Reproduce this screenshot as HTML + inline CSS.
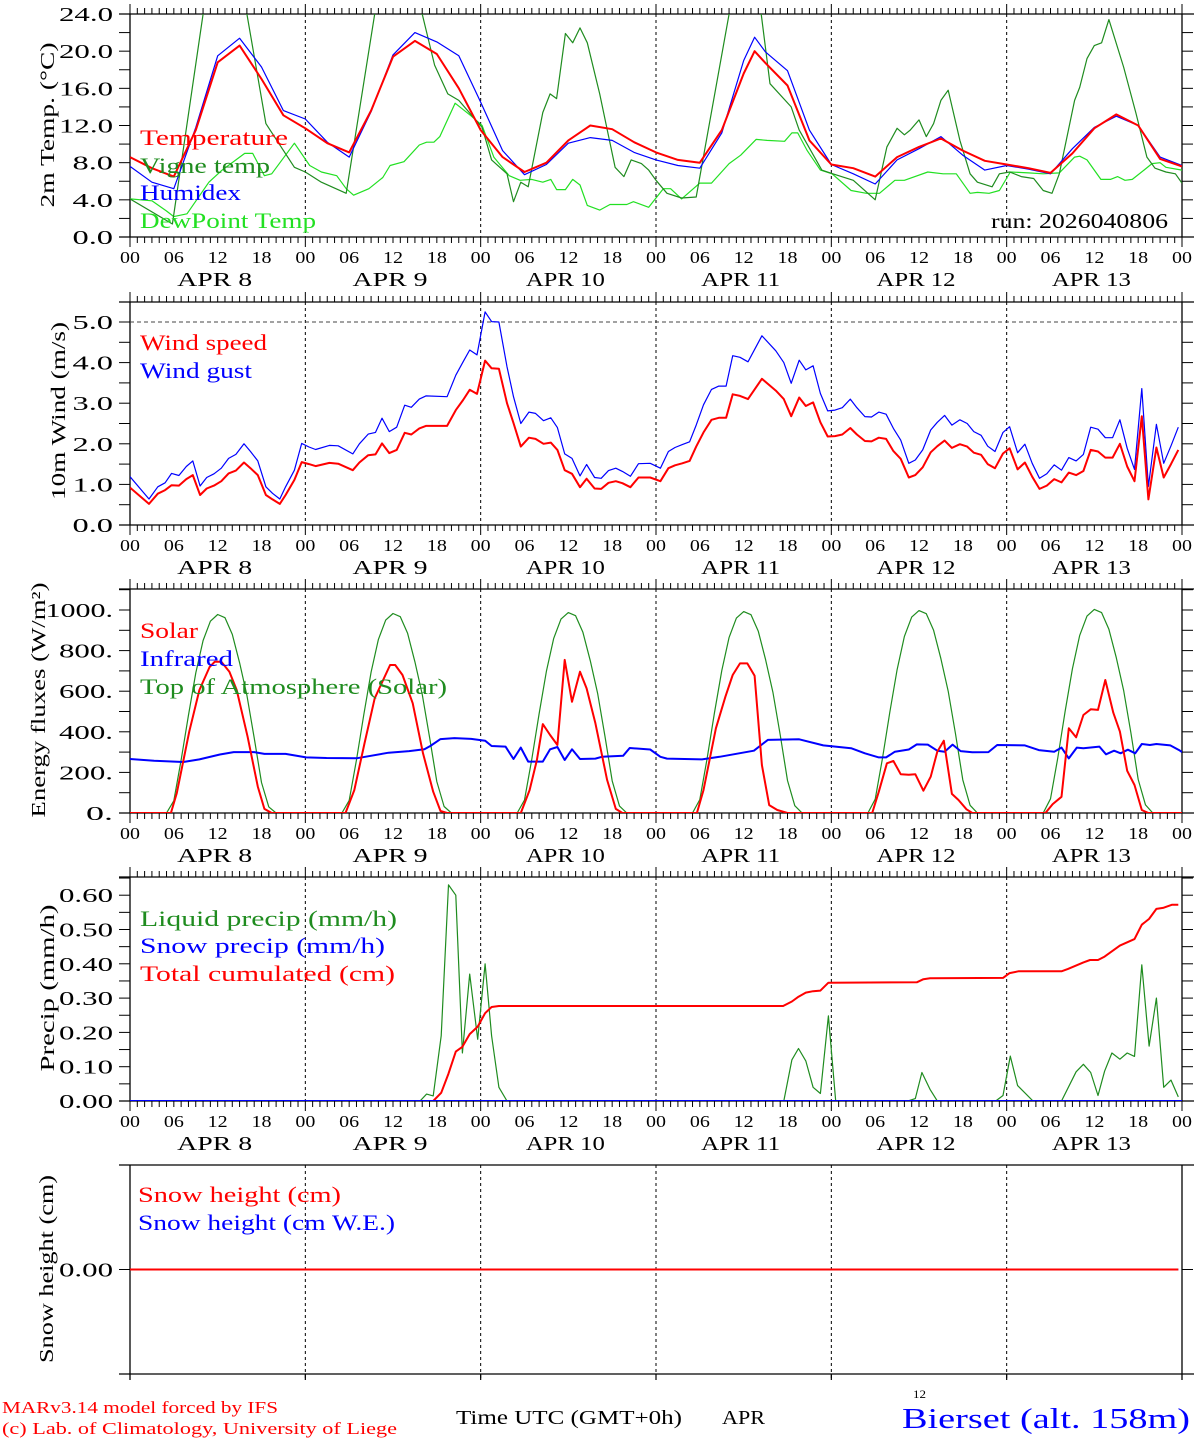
<!DOCTYPE html>
<html>
<head>
<meta charset="utf-8">
<style>
html,body{margin:0;padding:0;background:#fff;}
svg{display:block;}
text{font-family:"Liberation Serif",serif;}
</style>
</head>
<body>
<svg id="chart" xmlns="http://www.w3.org/2000/svg" width="1194" height="1440" viewBox="0 0 1194 1440"></svg>
<script>
// ---------------- DATA ----------------
const hourTickLabels = ["00","06","12","18"];
const dayLabels = ["APR  8","APR  9","APR 10","APR 11","APR 12","APR 13"];

const tempTicks = ["0.0","4.0","8.0","12.0","16.0","20.0","24.0"];
const windTicks = ["0.0","1.0","2.0","3.0","4.0","5.0"];
const fluxTicks = ["0.","200.","400.","600.","800.","1000."];
const precipTicks = ["0.00","0.10","0.20","0.30","0.40","0.50","0.60"];
const snowTicks = ["0.00"];

const tempHours = [0,3,6,9,12,15,18,21,24,27,30,33,36,39,42,45,48,51,54,57,60,63,66,69,72,75,78,81,84,85.5,87,90,93,96,99,102,105,108,111,114,117,120,123,126,129,132,135,138,141,144];
const temperature = [8.6,7.4,6.5,11.5,18.8,20.6,17,13.1, 11.7,10.1,9.1,13.6,19.4,21.1,19.7,16, 11.5,8.6,7.0,8.0,10.4,12,11.6,10.2, 9.1,8.3,8.0,11.5,17.6,20.0,18.7,16.3,10.4, 7.8,7.4,6.5,8.6,9.7,10.6,9.3,8.2, 7.8,7.4,6.9,9.0,11.7,13.2,12.0,8.4,7.6];
const humidex = [7.6,5.9,5.2,11.8,19.5,21.4,18.3,13.6, 12.7,10.2,8.6,13.5,19.6,22.0,21.0,19.5, 14.5,9.3,6.7,7.8,10.1,10.7,10.4,9.1, 8.3,7.7,7.4,11.2,19.0,21.5,19.9,17.9,11.5, 7.8,6.8,5.7,8.3,9.5,10.8,8.8,7.2, 7.7,7.3,6.8,9.5,11.8,13.0,12.0,8.6,7.7];

const vigneHours = [0,5.8,10,11,15,16,18.6,22.5,24,26.2,29.6,33.5,34.5,39,40,41.7,43.5,45,48.2,49.5,51.6,52.5,53.5,54.5,56.5,57.5,58.4,59.6,60.6,61.6,62.6,64.3,66.4,67.6,68.6,70,71,72,73.5,75.5,77.5,82,83,86,86.4,87.6,90.5,91.6,94.7,96.2,99,101,102,103.6,105,106,106.8,108,109,110,111,112,113.6,115,116,118,119,120.4,122,123.7,125,126.2,127.2,129.3,130,131,132,133,134,136,137.7,139.2,140.3,141.8,143.1,144];
const vigneTemp = [4.1,1.4,24,26,26,24,12.2,7.5,7.0,5.9,4.7,24,26,26,24,18.5,15.4,14.7,11.8,8.3,6.8,3.8,5.9,5.4,13.4,15.4,14.9,21.9,20.9,22.5,20.9,15.4,7.5,6.5,8.3,7.9,7.2,6.1,4.7,4.2,4.3,24,26,26,24,16.5,14,11.5,7.2,6.8,6.1,4.7,4.0,9.7,11.7,11,11.5,12.6,10.8,12.2,14.7,15.8,10.4,6.8,5.9,5.4,6.8,7.0,6.5,6.3,5.0,4.7,6.8,14.7,16.1,19.2,20.6,20.9,23.4,18.3,13.3,8.6,7.4,7.0,6.8,5.8];

const dewHours = [0,3,5,6,7.8,10.8,12.6,15.7,16.8,18.4,19.4,22.5,24.6,26.2,28.3,29.6,30.6,32.7,34.6,35.6,37.5,39.6,40.6,41.6,42.4,44.5,46.6,48.2,49.8,51.9,53.4,55,56.5,57.6,58.4,59.6,60.6,61.6,62.6,64.3,65.7,68,68.9,71,73,74,75.5,78,79.6,82,83.6,85.7,87.2,89.6,90.6,91.4,92.7,94.5,96.1,98.7,100.8,102.6,104.7,106,109.2,111.3,113.1,115,116,117.6,119,120.5,123,125,127.2,129.3,130,131,132.9,134.2,135.2,136.2,137.2,138.8,139.9,141,141.8,144];
const dewPoint = [4.1,3.9,2.8,2.2,2.5,5.9,7.2,9,9,6.6,6.8,10.1,7.7,7.0,6.6,5.2,4.5,5.2,6.4,7.7,8.1,9.9,10.2,10.2,10.8,14.4,13.1,12,8.6,6.6,6.1,6.2,5.9,6.2,5.1,5.1,6.2,5.6,3.4,2.9,3.5,3.5,3.8,3.2,5.2,5.2,4.1,5.8,5.8,7.9,8.8,10.5,10.4,10.3,11.2,11.2,9.3,7.2,6.8,5.0,4.7,4.7,6.1,6.1,7.0,6.8,6.8,4.7,4.8,4.7,5.0,7.0,6.9,6.8,6.9,8.6,8.7,8.3,6.2,6.2,6.5,6.1,6.2,7.2,7.9,8.0,7.5,7.2];

const windHours = [0,2.6,3.8,4.8,5.7,6.7,7.7,8.6,9.6,10.5,11.5,12.5,13.5,14.5,15.6,16.5,17.5,18.6,19.5,20.5,21.3,22.5,23.5,24.5,25.4,27.3,28.5,30.5,31.4,32.6,33.6,34.5,35.5,36.5,37.6,38.5,39.6,40.5,43.4,44.6,45.6,46.5,47.5,48.6,49.5,50.5,51.6,52.5,53.5,54.6,55.5,56.6,57.6,58.5,59.5,60.5,61.6,62.5,63.6,64.5,65.5,66.5,67.4,68.5,69.6,71.2,
72.6,73.7,74.6,75.6,76.6,77.5,78.5,79.6,80.6,81.6,82.5,83.5,84.6,86.5,88.4,89.5,90.5,91.6,92.5,93.5,94.5,95.5,96.5,97.5,98.6,99.5,100.6,101.5,102.5,103.5,104.5,105.5,106.6,107.5,108.5,109.6,110.5,111.5,112.5,113.6,114.6,115.5,116.5,117.4,118.4,119.5,120.4,121.5,122.5,123.5,124.5,125.5,126.5,127.5,128.5,129.5,130.5,131.5,132.5,133.5,134.5,135.5,136.5,137.5,138.5,139.4,140.5,141.5,142.5,143.5];
const windSpeed = [0.92,0.52,0.77,0.86,0.98,0.97,1.13,1.23,0.74,0.9,0.97,1.08,1.27,1.34,1.54,1.40,1.23,0.74,0.63,0.52,0.74,1.11,1.55,1.50,1.45,1.53,1.51,1.35,1.54,1.72,1.74,2.01,1.77,1.85,2.27,2.23,2.38,2.44,2.44,2.83,3.08,3.33,3.23,4.05,3.86,3.85,3.0,2.51,1.93,2.15,2.12,2.0,2.03,1.85,1.35,1.26,0.93,1.14,0.9,0.89,1.04,1.08,1.03,0.93,1.17,1.17,
1.08,1.4,1.47,1.52,1.58,1.93,2.28,2.59,2.64,2.64,3.22,3.18,3.1,3.6,3.31,3.1,2.68,3.14,2.93,3.02,2.53,2.18,2.19,2.23,2.39,2.23,2.07,2.06,2.15,2.12,1.82,1.63,1.17,1.23,1.42,1.79,1.94,2.08,1.9,1.99,1.93,1.78,1.73,1.5,1.4,1.76,1.89,1.37,1.54,1.19,0.89,0.97,1.13,1.05,1.29,1.23,1.33,1.85,1.81,1.66,1.66,2.0,1.44,1.08,2.68,0.63,1.91,1.17,1.5,1.85];
const windGust = [1.19,0.64,0.94,1.04,1.27,1.22,1.44,1.58,0.96,1.17,1.26,1.40,1.64,1.74,2.0,1.81,1.58,0.94,0.78,0.64,0.94,1.35,2.01,1.92,1.86,1.96,1.95,1.75,2.0,2.24,2.28,2.63,2.3,2.41,2.95,2.9,3.1,3.18,3.16,3.69,4.02,4.31,4.19,5.25,5.01,5.0,3.9,3.16,2.5,2.78,2.75,2.57,2.64,2.4,1.75,1.64,1.21,1.49,1.17,1.15,1.34,1.4,1.32,1.2,1.51,1.52,
1.4,1.81,1.91,1.98,2.05,2.46,2.96,3.34,3.42,3.42,4.17,4.13,4.02,4.66,4.29,4.0,3.49,4.06,3.82,3.92,3.24,2.81,2.83,2.89,3.1,2.89,2.67,2.66,2.78,2.73,2.38,2.09,1.52,1.6,1.85,2.34,2.53,2.7,2.46,2.59,2.5,2.3,2.21,1.94,1.81,2.28,2.42,1.78,1.99,1.52,1.15,1.26,1.48,1.35,1.66,1.58,1.74,2.41,2.36,2.15,2.15,2.59,1.89,1.37,3.36,0.95,2.48,1.52,1.95,2.41];

const toaHours = [0,5,6,7,8,9,10,11,12,13,14,15,16,17,18,19,20, 29,30,31,32,33,34,35,36,37,38,39,40,41,42,43,44, 53,54,55,56,57,58,59,60,61,62,63,64,65,66,67,68, 77,78,79,80,81,82,83,84,85,86,87,88,89,90,91,92, 101,102,103,104,105,106,107,108,109,110,111,112,113,114,115,116, 125,126,127,128,129,130,131,132,133,134,135,136,137,138,139,140,144];
const toaFlux = [0,0,60,260,480,690,850,945,978,962,880,740,580,370,150,30,0, 0,62,262,484,694,855,950,983,967,885,745,585,375,155,32,0, 0,64,265,488,698,860,955,987,972,890,750,590,380,158,34,0, 0,66,268,492,702,865,960,992,977,895,755,595,385,160,36,0, 0,68,270,496,706,870,965,997,982,900,760,600,390,163,38,0, 0,70,272,500,710,875,970,1003,987,905,765,605,395,165,40,0,0];

const solarHours = [0,5.6,6.4,8.1,9.5,10.9,11.6,12.5,13.6,14.6,16.1,17.5,18.4,19.4, 29.5,30.7,32.1,33.5,35.6,36.3,37.3,38.7,40.1,41.5,42.5,43.4, 53.5,54.7,55.7,56.5,57.5,58.5,59.5,60.5,61.6,62.5,63.7,65.3,66.5,67.4, 77.6,78.5,80.2,81.5,82.5,83.5,84.5,85.5,86.5,87.5,88.6,90, 101.6,102.5,103.6,104.5,105.5,106.6,107.5,108.6,109.6,110.5,111.4,112.5,113.4,114.5,115.3, 125.3,126.3,127.5,128.5,129.5,130.5,131.5,132.5,133.5,134.6,135.5,136.5,137.5,138.5,139.4,144];
const solarFlux = [0,0,98,400,606,719,745,745,696,606,376,130,20,0, 0,113,343,565,729,729,680,541,294,105,10,0, 0,113,261,438,384,335,754,548,696,614,442,163,20,0, 0,113,417,573,680,737,737,676,236,39,15,0, 0,105,245,256,191,188,191,110,179,302,356,94,64,18,0, 0,44,80,417,373,483,511,508,655,494,401,208,138,15,0,0];

const irHours = [0,3.3,7.3,9.5,12.3,14.2,17,18.4,21.3,24.1,26.9,31.1,35.4,38.2,40.3,41.1,42.5,44.4,46.7,48.6,49.5,51.4,52.5,53.5,54.5,56.5,57.5,58.5,59.5,60.5,61.6,63.7,64.6,67.5,68.4,71.2,72.6,73.5,78.3,80.7,85.4,87.3,91.6,94.9,98.7,100.6,102.5,103.5,104.7,106.6,107.7,109.2,110.5,111.5,112.6,113.7,115.3,117.5,118.7,122.5,124.4,126.5,127.5,128.5,129.6,130.5,132.7,133.6,134.7,135.6,136.6,137.6,138.5,139.6,140.5,142.4,143.6,144];
const irFlux = [266,257,251,264,288,300,300,291,291,274,271,270,297,305,314,330,364,369,365,356,330,327,266,322,253,253,314,325,261,314,266,268,277,282,320,313,277,268,264,277,307,360,363,333,319,294,274,274,302,313,338,337,307,302,337,305,299,300,335,333,310,302,322,269,322,319,327,289,307,294,312,294,340,335,340,333,310,300];

const liquidHours = [0,39.7,40.6,41.5,42.6,43.6,44.6,45.5,46.5,47.6,48.6,49.5,50.5,51.6,89.5,90.6,91.5,92.5,93.5,94.5,95.6,96.6,106.5,107.5,108.4,109.5,110.5,118.5,119.5,120.5,121.5,123.6,127.5,129.5,130.5,131.5,132.5,133.4,134.4,135.5,136.5,137.5,138.5,139.5,140.5,141.5,142.5,143.5];
const liquidPrecip = [0,0,0.02,0.015,0.19,0.63,0.60,0.14,0.37,0.18,0.40,0.19,0.04,0,0,0.12,0.153,0.117,0.04,0.022,0.248,0,0,0.007,0.083,0.034,0,0,0.016,0.131,0.045,0,0,0.085,0.107,0.083,0.016,0.087,0.14,0.122,0.14,0.13,0.397,0.16,0.3,0.04,0.061,0.012];
const cumHours = [0,41.5,42.6,43.6,44.6,45.5,46.5,47.6,48.6,49.5,50.5,89.4,90.6,91.5,92.5,93.5,94.5,95.6,107.7,108.6,109.5,119.5,120.4,121.6,127.5,128.4,130.5,131.4,132.5,133.4,135.5,137.5,138.5,139.5,140.5,141.4,142.6,143.5];
const cumPrecip = [0,0,0.024,0.08,0.144,0.158,0.195,0.217,0.256,0.274,0.277,0.277,0.29,0.304,0.316,0.32,0.322,0.345,0.346,0.355,0.358,0.359,0.373,0.378,0.378,0.385,0.404,0.411,0.411,0.421,0.453,0.472,0.514,0.531,0.56,0.563,0.572,0.572];
const snowPrecipHours = [0,144];
const snowPrecip = [0,0];
const snowHeightHours = [0,143.5];
const snowHeight = [0,0];
const snowWE = [0,0];

// ---------------- DRAWING ----------------
const NS = "http://www.w3.org/2000/svg";
const svg = document.getElementById("chart");
const X0 = 130, X1 = 1182, HOURS = 144;
function xh(h){ return X0 + h*(X1-X0)/HOURS; }
function mk(tag, attrs, parent){
  const e = document.createElementNS(NS, tag);
  for (const k in attrs) e.setAttribute(k, attrs[k]);
  (parent||svg).appendChild(e);
  return e;
}
function txt(str, attrs, parent){
  const t = mk("text", attrs, parent);
  t.textContent = str;
  return t;
}

const panels = [
  {top:14, bottom:237, vmin:0, vmax:24, ticks:tempTicks, tickVals:[0,4,8,12,16,20,24], minor:2, name:"temperature", full:true},
  {top:302, bottom:525, vmin:0, vmax:(525-302)/40.6, ticks:windTicks, tickVals:[0,1,2,3,4,5], minor:0.5, name:"wind", full:true},
  {top:589, bottom:813, vmin:0, vmax:(813-589)/0.203, ticks:fluxTicks, tickVals:[0,200,400,600,800,1000], minor:100, name:"energy", full:true},
  {top:877, bottom:1101, vmin:0, vmax:(1101-877)/343, ticks:precipTicks, tickVals:[0,0.1,0.2,0.3,0.4,0.5,0.6], minor:0.05, name:"precip", full:true},
  {top:1165, bottom:1374, vmin:-1, vmax:1, ticks:snowTicks, tickVals:[0], minor:0, name:"snow", full:false}
];
function yv(p, v){ return p.bottom - (v - p.vmin)*(p.bottom - p.top)/(p.vmax - p.vmin); }

const titles = [
  {t:"2m Temp. (\u00B0C)", x:47, y:125, len:165},
  {t:"10m Wind (m/s)", x:58, y:411, len:178},
  {t:"Energy fluxes (W/m\u00B2)", x:38, y:700, len:235},
  {t:"Precip (mm/h)", x:47, y:988, len:167},
  {t:"Snow height (cm)", x:46, y:1269, len:188}
];

panels.forEach((p, pi) => {
  const g = mk("g", {});
  
  
  // clip
  const cp = mk("clipPath", {id:"clip"+pi}, g);
  mk("rect", {x:X0, y:p.top, width:X1-X0, height:p.bottom-p.top}, cp);

  const bottomExt = p.full ? p.bottom : 1380;
  // frame
  const frame = mk("g", {stroke:"#000", "stroke-width":1.3, fill:"none"}, g);
  
  
  mk("line", {x1:119, y1:p.top, x2:1194, y2:p.top}, frame);
  mk("line", {x1:119, y1:p.bottom, x2:1194, y2:p.bottom}, frame);
  mk("line", {x1:X0, y1:p.top, x2:X0, y2:bottomExt}, frame);
  mk("line", {x1:X1, y1:p.top, x2:X1, y2:bottomExt}, frame);

  // day separators
  for (let d = 1; d < 6; d++){
    const l = mk("line", {x1:xh(d*24), y1:p.top, x2:xh(d*24), y2:bottomExt, stroke:"#000", "stroke-width":1, "stroke-dasharray":"3,3"}, g);
    
    
    if (!p.full) mk("line", {x1:xh(d*24), y1:p.bottom, x2:xh(d*24), y2:1380, stroke:"#000", "stroke-width":1.2}, g);
  }

  // y ticks
  const yt = mk("g", {stroke:"#000", "stroke-width":1}, g);
  
  
  if (p.minor > 0){
    for (let v = p.vmin; v <= p.vmax + 1e-9; v += p.minor){
      const y = yv(p, v);
      mk("line", {x1:119, y1:y, x2:X0, y2:y}, yt);
      mk("line", {x1:X1, y1:y, x2:1193, y2:y}, yt);
    }
  } else {
    p.tickVals.forEach(v => {
      const y = yv(p, v);
      mk("line", {x1:119, y1:y, x2:X0, y2:y}, yt);
      mk("line", {x1:X1, y1:y, x2:1193, y2:y}, yt);
    });
  }
  p.ticks.forEach((lab, i) => {
    const y = yv(p, p.tickVals[i]);
    const t = txt(lab, {x:113, y:y+7, "text-anchor":"end", "font-size":20, fill:"#000", textLength:lab.length*13.5, lengthAdjust:"spacingAndGlyphs"}, g);
    
    
  });

  // x ticks & labels
  if (p.full){
    const xt = mk("g", {stroke:"#000", "stroke-width":1}, g);
    
    
    for (let h = 0; h <= HOURS; h++){
      const x = xh(h), major = (h % 24 === 0);
      mk("line", {x1:x, y1:p.top - (major?10:6), x2:x, y2:p.top}, xt);
      mk("line", {x1:x, y1:p.bottom, x2:x, y2:p.bottom + (major?10:6)}, xt);
    }
    for (let h = 0; h <= HOURS; h += 6){
      const lab = hourTickLabels[(h/6)%4];
      const t = txt(lab, {x:xh(h), y:p.bottom+26, "text-anchor":"middle", "font-size":17, fill:"#000", textLength:20, lengthAdjust:"spacingAndGlyphs"}, g);
      
      
    }
    dayLabels.forEach((lab, d) => {
      const t = txt(lab, {x:xh(d*24+12)-3, y:p.bottom+49, "text-anchor":"middle", "font-size":20, fill:"#000", textLength:(d<2?75:79), lengthAdjust:"spacingAndGlyphs"}, g);
      
      
    });
  }

  // y title
  const ti = titles[pi];
  const tt = txt(ti.t, {x:0, y:0, "text-anchor":"middle", "font-size":20, fill:"#000", textLength:ti.len, lengthAdjust:"spacingAndGlyphs", transform:"translate("+(ti.x+7)+","+ti.y+") rotate(-90)"}, g);
  
  
  p.g = g;
});

function series(p, hours, vals, color, width, name){
  let d = "";
  for (let i = 0; i < hours.length; i++){
    d += (i ? "L" : "M") + xh(hours[i]).toFixed(1) + "," + yv(p, vals[i]).toFixed(1);
  }
  const path = mk("path", {d:d, fill:"none", stroke:color, "stroke-width":width, "stroke-linejoin":"round", "clip-path":"url(#clip"+panels.indexOf(p)+")"}, p.g);
  
  
  return path;
}
function legend(p, str, x, y, color, len, size){
  const t = txt(str, {x:x, y:y, "font-size":size||22, fill:color, textLength:len, lengthAdjust:"spacingAndGlyphs"}, p.g);
  
  
}

const P = panels;
const RED = "#ff0000", BLUE = "#0000ff", DGREEN = "#1f8c1f", LGREEN = "#22e022";

// Panel 1
series(P[0], dewHours, dewPoint, LGREEN, 1.2, "dewpoint-line");
series(P[0], vigneHours, vigneTemp, DGREEN, 1.2, "vigne-temp-line");
series(P[0], tempHours, humidex, BLUE, 1.2, "humidex-line");
series(P[0], tempHours, temperature, RED, 2, "temperature-line");
legend(P[0], "Temperature", 140, 145, RED, 148);
legend(P[0], "Vigne temp", 140, 173, DGREEN, 130);
legend(P[0], "Humidex", 140, 200, BLUE, 101);
legend(P[0], "DewPoint Temp", 140, 228, LGREEN, 176);
legend(P[0], "run: 2026040806", 991, 228, "#000", 177, 21);

// Panel 2
const ref5 = mk("line", {x1:X0, y1:yv(P[1],5), x2:X1, y2:yv(P[1],5), stroke:"#444", "stroke-width":1, "stroke-dasharray":"4,3"}, P[1].g);


series(P[1], windHours, windGust, BLUE, 1.2, "wind-gust-line");
series(P[1], windHours, windSpeed, RED, 2, "wind-speed-line");
legend(P[1], "Wind speed", 140, 350, RED, 127);
legend(P[1], "Wind gust", 140, 378, BLUE, 112);

// Panel 3
series(P[2], toaHours, toaFlux, DGREEN, 1.2, "toa-solar-line");
series(P[2], irHours, irFlux, BLUE, 2, "infrared-line");
series(P[2], solarHours, solarFlux, RED, 2, "solar-line");
legend(P[2], "Solar", 140, 638, RED, 58);
legend(P[2], "Infrared", 140, 666, BLUE, 93);
legend(P[2], "Top of Atmosphere (Solar)", 140, 694, DGREEN, 307);

// Panel 4
series(P[3], liquidHours, liquidPrecip, DGREEN, 1.2, "liquid-precip-line");
series(P[3], cumHours, cumPrecip, RED, 2, "cumulated-precip-line");
series(P[3], snowPrecipHours, snowPrecip, BLUE, 2, "snow-precip-line");
legend(P[3], "Liquid precip (mm/h)", 140, 926, DGREEN, 257);
legend(P[3], "Snow precip (mm/h)", 140, 953, BLUE, 245);
legend(P[3], "Total cumulated (cm)", 140, 981, RED, 255);

// Panel 5
series(P[4], snowHeightHours, snowWE, BLUE, 2, "snow-we-line");
series(P[4], snowHeightHours, snowHeight, RED, 2, "snow-height-line");
legend(P[4], "Snow height (cm)", 138, 1202, RED, 203);
legend(P[4], "Snow height (cm W.E.)", 138, 1230, BLUE, 257);

// Footer
const foot = mk("g", {});


let f;
f = txt("MARv3.14 model forced by IFS", {x:2, y:1413, "font-size":17, fill:RED, textLength:276, lengthAdjust:"spacingAndGlyphs"}, foot);


f = txt("(c) Lab. of Climatology, University of Liege", {x:2, y:1434, "font-size":17, fill:RED, textLength:395, lengthAdjust:"spacingAndGlyphs"}, foot);


f = txt("Time UTC (GMT+0h)", {x:456, y:1424, "font-size":20, fill:"#000", textLength:226, lengthAdjust:"spacingAndGlyphs"}, foot);


f = txt("APR", {x:722, y:1424, "font-size":20, fill:"#000", textLength:43, lengthAdjust:"spacingAndGlyphs"}, foot);


f = txt("12", {x:913, y:1398, "font-size":12, fill:"#000", textLength:13, lengthAdjust:"spacingAndGlyphs"}, foot);


f = txt("Bierset (alt. 158m)", {x:902, y:1428, "font-size":28, fill:BLUE, textLength:288, lengthAdjust:"spacingAndGlyphs"}, foot);


</script>
</body>
</html>
